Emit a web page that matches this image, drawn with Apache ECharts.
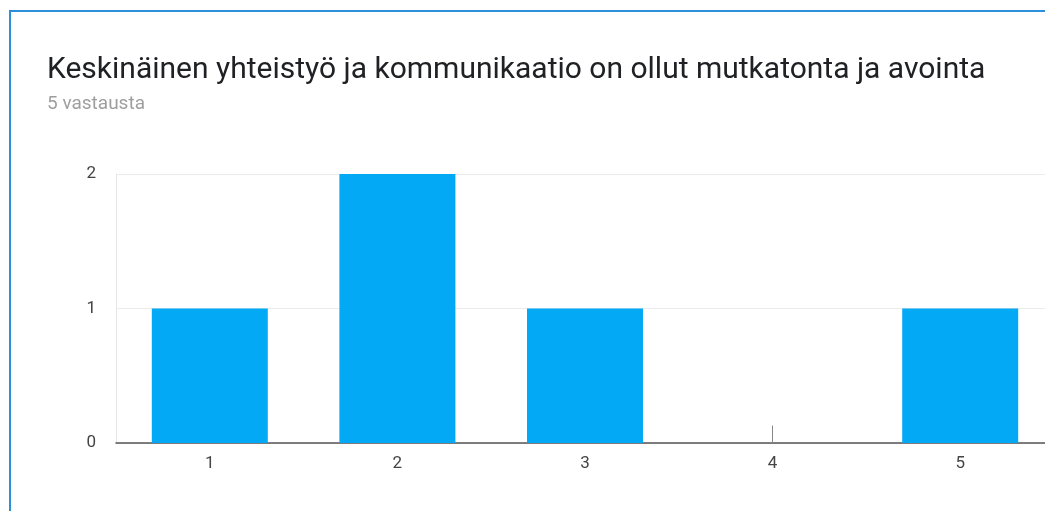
<!DOCTYPE html>
<html>
<head>
<meta charset="utf-8">
<style>
  html, body { margin: 0; padding: 0; background: #ffffff; overflow: hidden; }
  #chart { width: 1060px; height: 511px; }
</style>
<script src="https://cdn.jsdelivr.net/npm/echarts@6/dist/echarts.min.js"></script>
</head>
<body>
<div id="chart"></div>
<script>
// Survey answers for a 1–5 scale question
const categories = ['1', '2', '3', '4', '5'];
const counts = [1, 2, 1, 0, 1];
const yTicks = [0, 1, 2];
const titleText = 'Keskinäinen yhteistyö ja kommunikaatio on ollut mutkatonta ja avointa';
const subtitleText = '5 vastausta';

const chart = echarts.init(document.getElementById('chart'), null, { renderer: 'canvas' });

chart.setOption({
  animation: false,
  backgroundColor: '#ffffff',
  title: [{
    text: titleText,
    left: 42,
    top: 50,
    textStyle: {
      fontFamily: 'Roboto',
      fontSize: 30,
      fontWeight: 'normal',
      color: '#202124'
    }
  }, {
    text: subtitleText,
    left: 42,
    top: 90,
    textStyle: {
      fontFamily: 'Roboto',
      fontSize: 19,
      fontWeight: 'normal',
      color: '#9e9e9e'
    }
  }],
  graphic: [{
    type: 'rect',
    shape: { x: 10, y: 11, width: 1200, height: 700 },
    style: { fill: 'none', stroke: '#2b8fdc', lineWidth: 2 },
    silent: true
  }],
  grid: {
    left: 116,
    top: 174,
    right: 6,
    bottom: 68
  },
  xAxis: {
    type: 'category',
    data: categories,
    axisLine: { show: true, lineStyle: { color: '#555555', width: 1.5 } },
    axisTick: { show: false },
    axisLabel: {
      fontFamily: 'Roboto',
      fontSize: 17,
      color: '#444444',
      margin: 12
    },
    splitLine: { show: false }
  },
  yAxis: {
    type: 'value',
    min: yTicks[0],
    max: yTicks[yTicks.length - 1],
    interval: 1,
    axisLine: { show: true, lineStyle: { color: '#e6e6e6', width: 1 } },
    axisTick: { show: false },
    axisLabel: {
      fontFamily: 'Roboto',
      fontSize: 17,
      color: '#444444',
      margin: 20
    },
    splitLine: { show: true, lineStyle: { color: '#ebebeb', width: 1 } }
  },
  series: [{
    type: 'bar',
    data: counts,
    barWidth: 116,
    itemStyle: { color: '#03a9f4' },
    // small marker stub shown for the empty category
    markLine: {
      silent: true,
      symbol: 'none',
      label: { show: false },
      lineStyle: { color: '#888888', width: 1, type: 'solid' },
      data: categories
        .map((c, i) => counts[i] === 0 ? [{ coord: [c, 0] }, { coord: [c, 0.13] }] : null)
        .filter(Boolean)
    }
  }]
});
</script>
</body>
</html>
